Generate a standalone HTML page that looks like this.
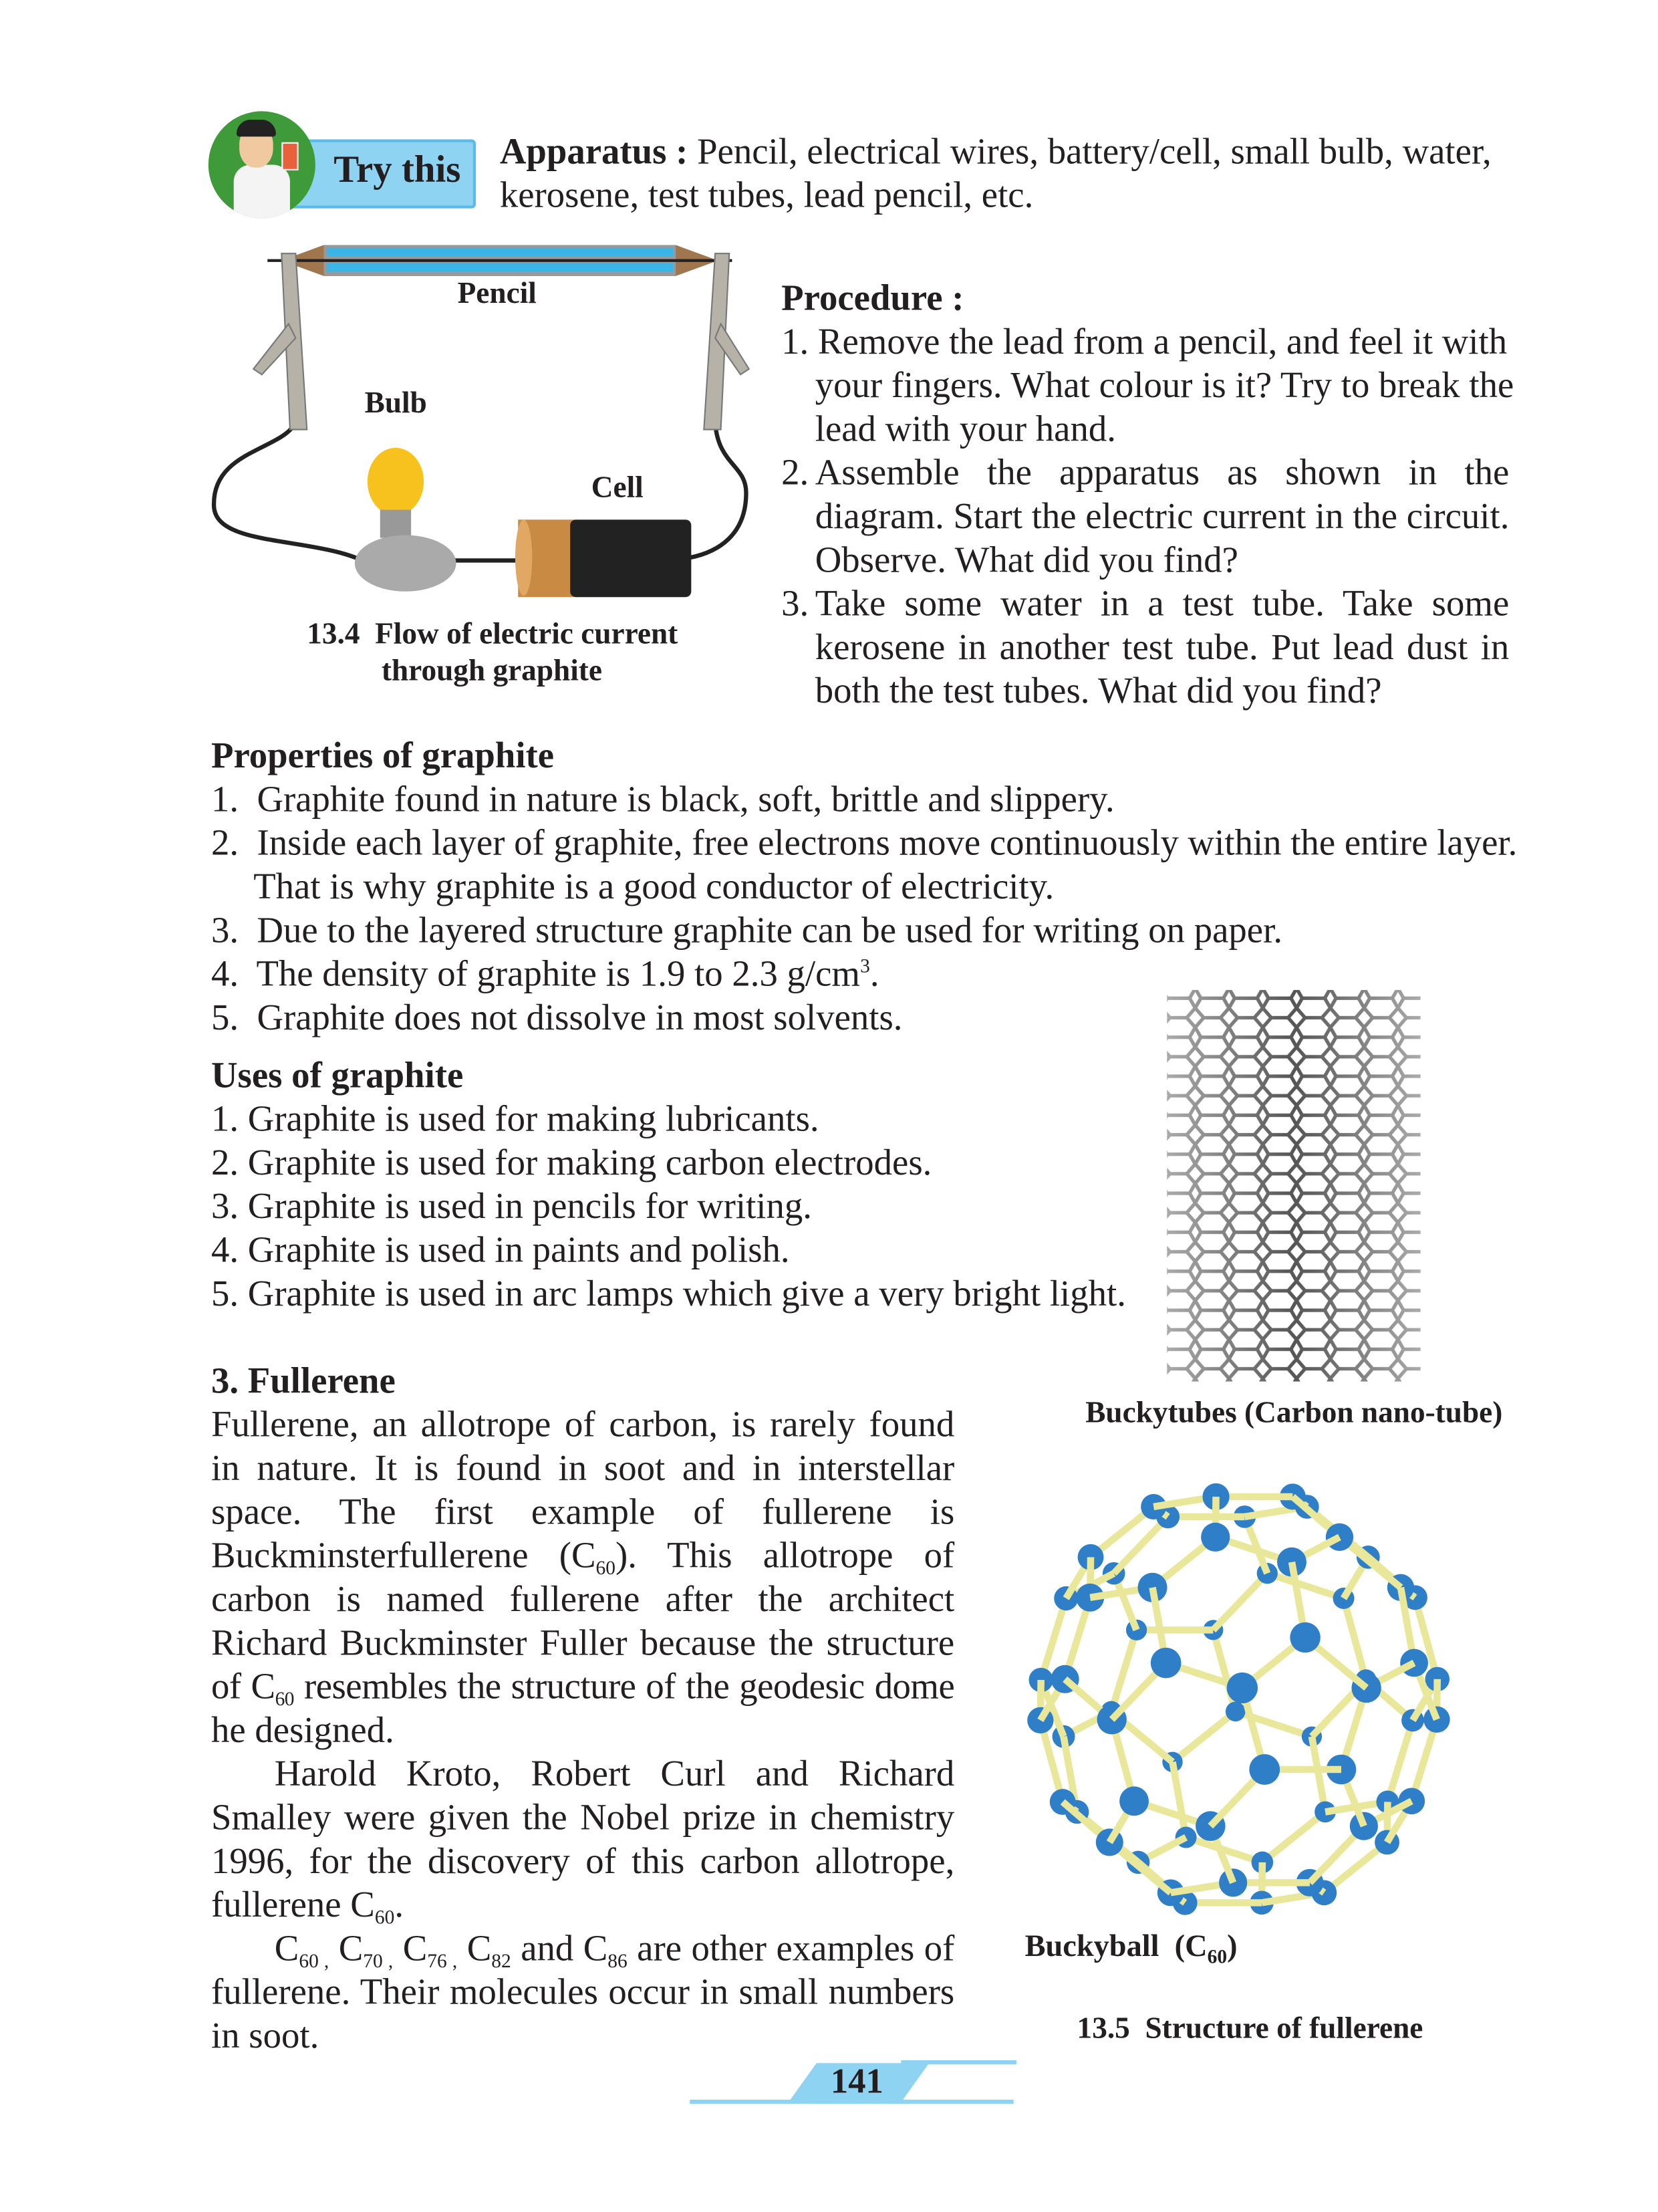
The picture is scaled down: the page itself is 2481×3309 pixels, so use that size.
<!DOCTYPE html>
<html><head><meta charset="utf-8">
<style>
html,body{margin:0;padding:0;background:#fff;}
body{width:2481px;height:3308px;overflow:hidden;position:relative;}
#page{position:absolute;left:0;top:0;width:1178px;height:1571px;transform:scale(2.1066);transform-origin:0 0;font-family:"Liberation Serif",serif;color:#231f20;}
.t{position:absolute;font-size:26px;line-height:31px;white-space:nowrap;}
.b{font-weight:bold;}
.cap{position:absolute;font-size:21.5px;font-weight:bold;white-space:nowrap;}
.j{position:absolute;font-size:26px;line-height:31px;text-align:justify;text-align-last:justify;white-space:nowrap;}
sub{font-size:14px;vertical-align:-5px;line-height:0;}
sup{font-size:14px;line-height:0;}
</style></head>
<body>
<div id="page">

<div style="position:absolute;left:200px;top:99px;width:138px;height:49px;background:#8fd3f3;border:2px solid #5bbbe8;border-radius:3px;box-sizing:border-box;"></div>
<div style="position:absolute;left:148px;top:79px;width:76px;height:76px;border-radius:50%;background:#3f9a3a;overflow:hidden;">
  <div style="position:absolute;left:18px;top:38px;width:40px;height:44px;background:#f4f4f4;border-radius:12px 12px 0 0;"></div>
  <div style="position:absolute;left:22px;top:10px;width:24px;height:30px;background:#f1c9a0;border-radius:45%;"></div>
  <div style="position:absolute;left:20px;top:6px;width:28px;height:12px;background:#222;border-radius:10px 10px 2px 2px;"></div>
  <div style="position:absolute;left:52px;top:22px;width:10px;height:18px;background:#e8603c;border:1px solid #fff;"></div>
</div>
<div class="t b" style="left:237px;top:105px;font-size:27px;">Try this</div>

<div class="t" style="left:355px;top:92px;"><b>Apparatus :</b> Pencil, electrical wires, battery/cell, small bulb, water,</div>
<div class="t" style="left:355px;top:123px;">kerosene, test tubes, lead pencil, etc.</div>

<svg style="position:absolute;left:140px;top:170px;" width="400" height="260" viewBox="140 170 400 260">
  <path d="M210 300 C200 320,150 320,152 360 C154 390,230 380,265 402" fill="none" stroke="#222" stroke-width="3"/>
  <path d="M508 300 C510 330,530 330,530 350 C530 380,510 392,490 396" fill="none" stroke="#222" stroke-width="3"/>
  <line x1="320" y1="398" x2="372" y2="398" stroke="#222" stroke-width="3"/>
  <polygon points="200,185 230,174 480,174 510,185 480,196 230,196" fill="#a0764f"/>
  <rect x="230" y="174" width="250" height="22" fill="#999"/>
  <rect x="232" y="176" width="246" height="6" fill="#3bb4e8"/>
  <rect x="232" y="187" width="246" height="6" fill="#3bb4e8"/>
  <line x1="190" y1="185" x2="520" y2="185" stroke="#222" stroke-width="2"/>
  <polygon points="200,180 210,180 218,305 206,305" fill="#b7b2a8" stroke="#777"/>
  <polygon points="205,230 180,262 186,266 210,240" fill="#b7b2a8" stroke="#777"/>
  <polygon points="508,180 518,180 512,305 500,305" fill="#b7b2a8" stroke="#777"/>
  <polygon points="512,230 532,262 526,266 508,240" fill="#b7b2a8" stroke="#777"/>
  <ellipse cx="281" cy="342" rx="20" ry="24" fill="#f7c21d"/>
  <rect x="270" y="362" width="22" height="20" fill="#999"/>
  <ellipse cx="288" cy="400" rx="36" ry="20" fill="#aaa"/>
  <rect x="368" y="369" width="40" height="55" fill="#c98b43"/>
  <rect x="405" y="369" width="86" height="55" rx="4" fill="#222"/>
  <ellipse cx="372" cy="396" rx="6" ry="27" fill="#e0a862"/>
</svg>
<div class="cap" style="left:325px;top:196px;">Pencil</div>
<div class="cap" style="left:259px;top:274px;">Bulb</div>
<div class="cap" style="left:420px;top:334px;">Cell</div>
<div class="cap" style="left:218px;top:438px;">13.4&nbsp; Flow of electric current</div>
<div class="cap" style="left:271px;top:464px;">through graphite</div>

<div class="t b" style="left:555px;top:196px;">Procedure :</div>
<div class="t" style="left:555px;top:227px;">1. Remove the lead from a pencil, and feel it with</div>
<div class="t" style="left:579px;top:258px;">your fingers. What colour is it? Try to break the</div>
<div class="t" style="left:579px;top:289px;">lead with your hand.</div>
<div class="t" style="left:555px;top:320px;">2.</div>
<div class="j" style="left:579px;top:320px;width:493px;">Assemble the apparatus as shown in the</div>
<div class="j" style="left:579px;top:351px;width:493px;">diagram. Start the electric current in the circuit.</div>
<div class="t" style="left:579px;top:382px;">Observe. What did you find?</div>
<div class="t" style="left:555px;top:413px;">3.</div>
<div class="j" style="left:579px;top:413px;width:493px;">Take some water in a test tube. Take some</div>
<div class="j" style="left:579px;top:444px;width:493px;">kerosene in another test tube. Put lead dust in</div>
<div class="t" style="left:579px;top:475px;">both the test tubes. What did you find?</div>

<div class="t b" style="left:150px;top:521px;">Properties of graphite</div>
<div class="t" style="left:150px;top:552px;">1.&nbsp; Graphite found in nature is black, soft, brittle and slippery.</div>
<div class="t" style="left:150px;top:583px;">2.&nbsp; Inside each layer of graphite, free electrons move continuously within the entire layer.</div>
<div class="t" style="left:180px;top:614px;">That is why graphite is a good conductor of electricity.</div>
<div class="t" style="left:150px;top:645px;">3.&nbsp; Due to the layered structure graphite can be used for writing on paper.</div>
<div class="t" style="left:150px;top:676px;">4.&nbsp; The density of graphite is 1.9 to 2.3 g/cm<sup>3</sup>.</div>
<div class="t" style="left:150px;top:707px;">5.&nbsp; Graphite does not dissolve in most solvents.</div>

<div class="t b" style="left:150px;top:748px;">Uses of graphite</div>
<div class="t" style="left:150px;top:779px;">1. Graphite is used for making lubricants.</div>
<div class="t" style="left:150px;top:810px;">2. Graphite is used for making carbon electrodes.</div>
<div class="t" style="left:150px;top:841px;">3. Graphite is used in pencils for writing.</div>
<div class="t" style="left:150px;top:872px;">4. Graphite is used in paints and polish.</div>
<div class="t" style="left:150px;top:903px;">5. Graphite is used in arc lamps which give a very bright light.</div>

<svg style="position:absolute;left:825px;top:695px;" width="188" height="290">
  <defs><pattern id="hex" width="24" height="27.7" patternUnits="userSpaceOnUse">
    <path d="M0 6.9 L6 0 L18 0 L24 6.9 M0 6.9 L4 13.85 L0 20.8 M24 6.9 L20 13.85 L24 20.8 M4 13.85 L20 13.85 M0 20.8 L6 27.7 L18 27.7 L24 20.8" fill="none" stroke="#555" stroke-width="2.5"/>
  </pattern>
  <linearGradient id="shade" x1="0" x2="1"><stop offset="0" stop-color="#fff" stop-opacity="0.5"/><stop offset="0.5" stop-color="#fff" stop-opacity="0"/><stop offset="1" stop-color="#fff" stop-opacity="0.5"/></linearGradient></defs>
  <rect x="4" y="8" width="180" height="278" fill="url(#hex)"/>
  <rect x="4" y="8" width="180" height="278" fill="url(#shade)"/>
</svg>
<div class="cap" style="left:771px;top:991px;">Buckytubes (Carbon nano-tube)</div>

<div class="t b" style="left:150px;top:965px;">3. Fullerene</div>
<div class="j" style="left:150px;top:996px;width:528px;">Fullerene, an allotrope of carbon, is rarely found</div>
<div class="j" style="left:150px;top:1027px;width:528px;">in nature. It is found in soot and in interstellar</div>
<div class="j" style="left:150px;top:1058px;width:528px;">space. The first example of fullerene is</div>
<div class="j" style="left:150px;top:1089px;width:528px;">Buckminsterfullerene (C<sub>60</sub>). This allotrope of</div>
<div class="j" style="left:150px;top:1120px;width:528px;">carbon is named fullerene after the architect</div>
<div class="j" style="left:150px;top:1151px;width:528px;">Richard Buckminster Fuller because the structure</div>
<div class="j" style="left:150px;top:1182px;width:528px;letter-spacing:-0.25px;">of C<sub>60</sub> resembles the structure of the geodesic dome</div>
<div class="t" style="left:150px;top:1213px;">he designed.</div>
<div class="j" style="left:195px;top:1244px;width:483px;">Harold Kroto, Robert Curl and Richard</div>
<div class="j" style="left:150px;top:1275px;width:528px;">Smalley were given the Nobel prize in chemistry</div>
<div class="j" style="left:150px;top:1306px;width:528px;">1996, for the discovery of this carbon allotrope,</div>
<div class="t" style="left:150px;top:1337px;">fullerene C<sub>60</sub>.</div>
<div class="j" style="left:195px;top:1368px;width:483px;">C<sub>60 ,</sub> C<sub>70 ,</sub> C<sub>76 ,</sub> C<sub>82</sub> and C<sub>86</sub> are other examples of</div>
<div class="j" style="left:150px;top:1399px;width:528px;">fullerene. Their molecules occur in small numbers</div>
<div class="t" style="left:150px;top:1430px;">in soot.</div>

<svg id="ball" style="position:absolute;left:725px;top:1045px;" width="320" height="330"></svg>
<div class="cap" style="left:728px;top:1369px;font-size:22px;">Buckyball&nbsp; (C<sub>60</sub>)</div>
<div class="cap" style="left:765px;top:1428px;">13.5&nbsp; Structure of fullerene</div>

<div style="position:absolute;left:490px;top:1491px;width:230px;height:3px;background:#8fd3f3;"></div>
<div style="position:absolute;left:640px;top:1463px;width:82px;height:3px;background:#8fd3f3;"></div>
<div style="position:absolute;left:560px;top:1465px;width:100px;height:28px;background:#8fd3f3;clip-path:polygon(20% 0,100% 0,80% 100%,0 100%);"></div>
<div class="t b" style="left:590px;top:1463px;font-size:25px;">141</div>
</div>

<script>
(function(){
  var phi=(1+Math.sqrt(5))/2, base=[[0,1,3*phi],[1,2+phi,2*phi],[phi,2,2*phi+1]], V=[];
  base.forEach(function(b){
    for(var s=0;s<8;s++){
      var p=[b[0]*(s&1?-1:1),b[1]*(s&2?-1:1),b[2]*(s&4?-1:1)];
      [[0,1,2],[1,2,0],[2,0,1]].forEach(function(o){
        var q=[p[o[0]],p[o[1]],p[o[2]]];
        if(!V.some(function(v){return Math.abs(v[0]-q[0])+Math.abs(v[1]-q[1])+Math.abs(v[2]-q[2])<1e-6;}))V.push(q);
      });
    }
  });
  var ax=0.5,ay=0.35;
  var P=V.map(function(v){
    var x=v[0],y=v[1]*Math.cos(ax)-v[2]*Math.sin(ax),z=v[1]*Math.sin(ax)+v[2]*Math.cos(ax);
    var x2=x*Math.cos(ay)+z*Math.sin(ay),z2=-x*Math.sin(ay)+z*Math.cos(ay);
    return [155+x2*29,162+y*30.5,z2];
  });
  var svg=document.getElementById('ball'),ns='http://www.w3.org/2000/svg',items=[];
  for(var i=0;i<V.length;i++)for(var j=i+1;j<V.length;j++){
    var d=Math.hypot(V[i][0]-V[j][0],V[i][1]-V[j][1],V[i][2]-V[j][2]);
    if(Math.abs(d-2)<1e-3)items.push({z:(P[i][2]+P[j][2])/2-0.3,e:[i,j]});
  }
  P.forEach(function(p,i){items.push({z:p[2],n:i});});
  items.sort(function(a,b){return a.z-b.z;});
  items.forEach(function(it){
    var el;
    if(it.e){
      el=document.createElementNS(ns,'line');
      var a=P[it.e[0]],b=P[it.e[1]];
      el.setAttribute('x1',a[0]);el.setAttribute('y1',a[1]);el.setAttribute('x2',b[0]);el.setAttribute('y2',b[1]);
      el.setAttribute('stroke','#e9e79a');el.setAttribute('stroke-width','5');
      
      
    }else{
      var p=P[it.n];
      el=document.createElementNS(ns,'circle');
      el.setAttribute('cx',p[0]);el.setAttribute('cy',p[1]);el.setAttribute('r',9+p[2]*0.4);
      el.setAttribute('fill','#2f7fc8');
      
      
    }
    svg.appendChild(el);
  });
})();
</script>
</body></html>
